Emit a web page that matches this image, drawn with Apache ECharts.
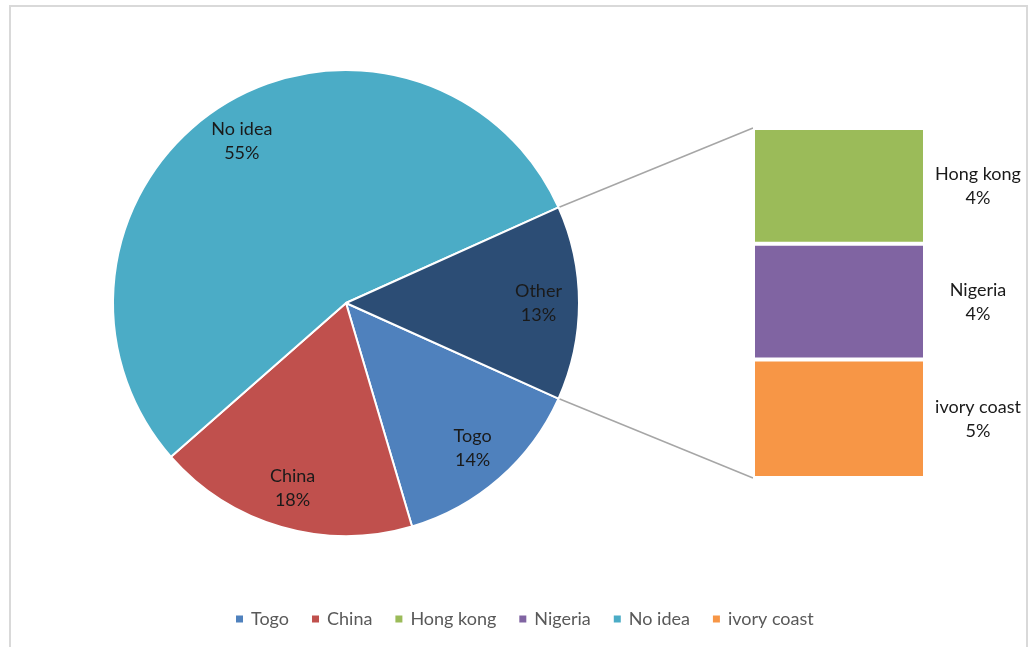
<!DOCTYPE html>
<html>
<head>
<meta charset="utf-8">
<title>pie of bar</title>
<style>
  html, body { margin: 0; padding: 0; width: 100%; height: 100%; background: #fff; }
  #main { width: 1028px; height: 647px; }
</style>
</head>
<body>
<div id="main"></div>
<script src="https://cdn.jsdelivr.net/npm/echarts@6/dist/echarts.min.js"></script>
<script>
// pie slices (clockwise, starting just below 3 o'clock)
var pieNames = ['Togo', 'China', 'No idea'];
var pieValues = [13.7, 18.1, 54.75];
// the "Other" slice is broken out into the stacked bar
var otherNames = ['Hong kong', 'Nigeria', 'ivory coast'];
var otherValues = [4.45, 4.45, 4.55];
var legendNames = ['Togo', 'China', 'Hong kong', 'Nigeria', 'No idea', 'ivory coast'];

var colors = {
    'Togo': '#4F81BD',
    'China': '#C0504D',
    'No idea': '#4BACC6',
    'Other': '#2C4D75',
    'Hong kong': '#9BBB59',
    'Nigeria': '#8064A2',
    'ivory coast': '#F79646'
};

var FONT = 'Lato';
var cx = 346, cy = 303, R = 233;
var gridLeft = 753, gridTop = 128, gridW = 172, gridH = 350;

var otherTotal = 0;
for (var i = 0; i < otherValues.length; i++) otherTotal += otherValues[i];
var total = otherTotal;
for (var i = 0; i < pieValues.length; i++) total += pieValues[i];

// "Other" slice centred on 3 o'clock
var half = otherTotal / total * 360 / 2;
var startAngle = -half;

var pieData = [];
for (var i = 0; i < pieNames.length; i++) {
    pieData.push({ name: pieNames[i], value: pieValues[i], itemStyle: { color: colors[pieNames[i]] } });
}
pieData.push({ name: 'Other', value: otherTotal, itemStyle: { color: colors['Other'] } });

var pctLabel = function (p) {
    return p.name + '\n' + Math.round(p.value) + '%';
};

var series = [{
    type: 'pie',
    center: [cx, cy],
    radius: R,
    startAngle: startAngle,
    clockwise: true,
    silent: true,
    label: { show: false },
    labelLine: { show: false },
    itemStyle: { borderColor: '#fff', borderWidth: 2 },
    data: pieData
}, {
    // transparent ring, only used to place labels further out
    type: 'pie',
    center: [cx, cy],
    radius: [146, R],
    startAngle: startAngle,
    clockwise: true,
    silent: true,
    itemStyle: { color: 'rgba(0,0,0,0)' },
    label: {
        show: true,
        position: 'inside',
        formatter: pctLabel,
        color: '#1a1a1a',
        fontSize: 18,
        lineHeight: 24,
        fontFamily: FONT
    },
    labelLine: { show: false },
    data: pieData.map(function (d) { return { name: d.name, value: d.value }; })
}];

// stacked bar, bottom to top
for (var i = otherNames.length - 1; i >= 0; i--) {
    series.push({
        type: 'bar',
        name: otherNames[i],
        stack: 'other',
        barWidth: '100%',
        silent: true,
        itemStyle: { color: colors[otherNames[i]], borderColor: '#fff', borderWidth: 2 },
        label: {
            show: true,
            position: 'right',
            distance: 53,
            align: 'center',
            formatter: function (p) { return p.seriesName + '\n' + Math.round(p.value) + '%'; },
            color: '#1a1a1a',
            fontSize: 18,
            lineHeight: 24,
            fontFamily: FONT
        },
        data: [otherValues[i]]
    });
}

// connector lines from the Other slice edges to the bar corners
var rad = half * Math.PI / 180;
var px = cx + R * Math.cos(rad);
var pyTop = cy - R * Math.sin(rad);
var pyBot = cy + R * Math.sin(rad);

var option = {
    animation: false,
    backgroundColor: '#fff',
    legend: {
        data: legendNames,
        bottom: 14,
        left: 229,
        icon: 'rect',
        itemWidth: 9,
        itemHeight: 9,
        itemGap: 21,
        selectedMode: false,
        textStyle: { color: '#595959', fontSize: 18, fontFamily: FONT, padding: [0, 0, 0, 2] }
    },
    grid: { left: gridLeft, top: gridTop, width: gridW, height: gridH },
    xAxis: { type: 'category', data: ['Other'], show: false },
    yAxis: { type: 'value', min: 0, max: otherTotal, show: false },
    graphic: [{
        type: 'rect',
        shape: { x: 10, y: 6, width: 1017, height: 700 },
        style: { fill: 'none', stroke: '#d9d9d9', lineWidth: 2 },
        silent: true
    }, {
        type: 'line',
        shape: { x1: px, y1: pyTop, x2: gridLeft, y2: gridTop },
        style: { stroke: '#a6a6a6', lineWidth: 1.5 },
        silent: true
    }, {
        type: 'line',
        shape: { x1: px, y1: pyBot, x2: gridLeft, y2: gridTop + gridH },
        style: { stroke: '#a6a6a6', lineWidth: 1.5 },
        silent: true
    }],
    series: series
};

var myChart = echarts.init(document.getElementById('main'));
myChart.setOption(option);
</script>
</body>
</html>
